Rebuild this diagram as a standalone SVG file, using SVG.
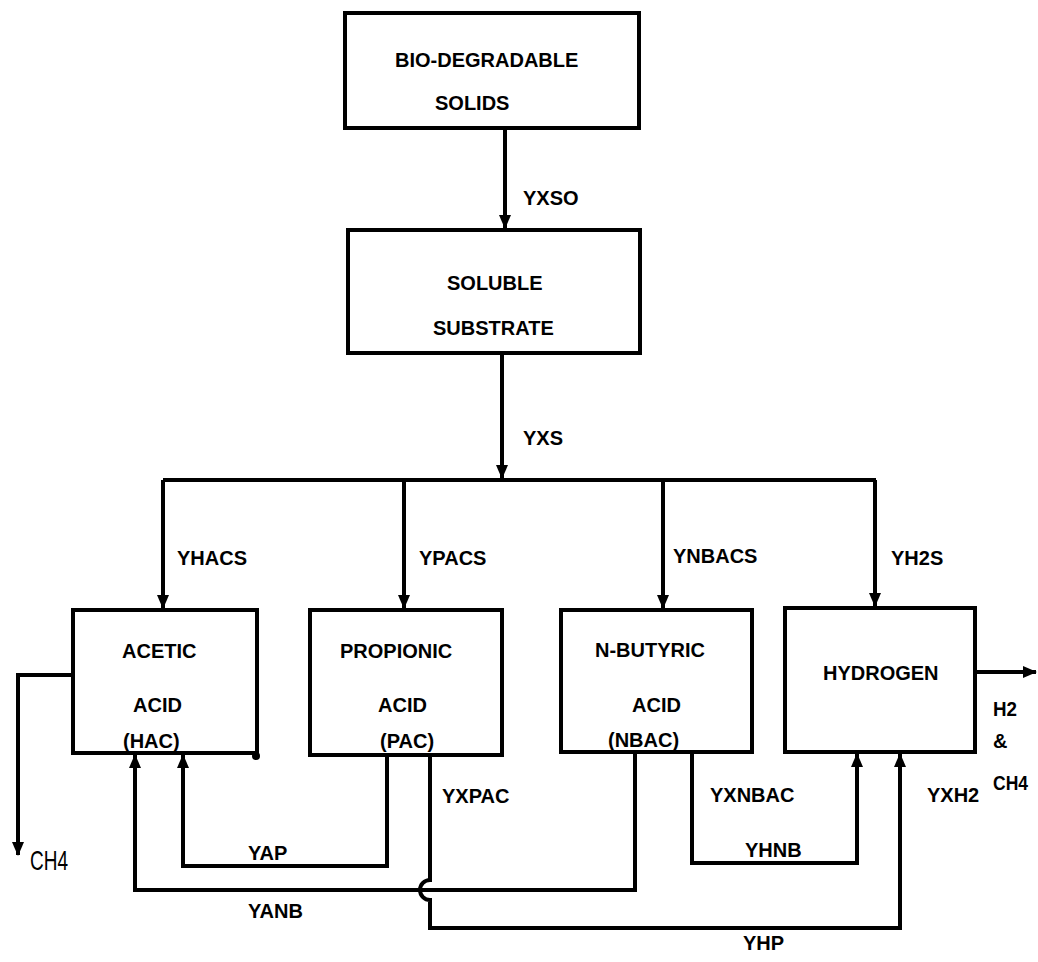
<svg xmlns="http://www.w3.org/2000/svg" width="1038" height="962" viewBox="0 0 1038 962">
<style>
.box{fill:#fff;stroke:#000;stroke-width:4}
.ln{fill:none;stroke:#000;stroke-width:4;stroke-linejoin:miter}
.t{font-family:"Liberation Sans",Arial,sans-serif;font-weight:bold;font-size:20px;fill:#000}
.h{font-family:"Liberation Sans",Arial,sans-serif;fill:#000}
</style>
<defs>
<marker id="ah" markerUnits="userSpaceOnUse" markerWidth="14" markerHeight="16" viewBox="0 0 14 16" refX="13" refY="8" orient="auto">
<path d="M0,2 L14,8 L0,14 Z" fill="#000"/>
</marker>
</defs>
<rect width="1038" height="962" fill="#fff"/>
<g id="connectors">
<path class="ln" d="M505 128 V228" marker-end="url(#ah)"/>
<path class="ln" d="M502 353 V478" marker-end="url(#ah)"/>
<path class="ln" d="M163 480 H876"/>
<path class="ln" d="M163 480 V608" marker-end="url(#ah)"/>
<path class="ln" d="M404 480 V608" marker-end="url(#ah)"/>
<path class="ln" d="M663 480 V608" marker-end="url(#ah)"/>
<path class="ln" d="M875 480 V606" marker-end="url(#ah)"/>
<path class="ln" d="M73 675 H18 V855" marker-end="url(#ah)"/>
<path class="ln" d="M387 755 V866 H183 V755" marker-end="url(#ah)"/>
<path class="ln" d="M635 752 V890 H135 V755" marker-end="url(#ah)"/>
<path class="ln" d="M430 755 V880 A10 10 0 0 0 430 900 V928 H900 V754" marker-end="url(#ah)"/>
<path class="ln" d="M692 752 V863 H857 V754" marker-end="url(#ah)"/>
<path class="ln" d="M975 672 H1036" marker-end="url(#ah)"/>
<text class="t" x="523" y="205">YXSO</text>
<text class="t" x="523" y="445">YXS</text>
<text class="t" x="177" y="565">YHACS</text>
<text class="t" x="419" y="565">YPACS</text>
<text class="t" x="673" y="563">YNBACS</text>
<text class="t" x="891" y="565">YH2S</text>
<text class="t" x="442" y="803">YXPAC</text>
<text class="t" x="248" y="860">YAP</text>
<text class="t" x="248" y="918">YANB</text>
<text class="t" x="710" y="802">YXNBAC</text>
<text class="t" x="745" y="857">YHNB</text>
<text class="t" x="927" y="802">YXH2</text>
<text class="t" x="743" y="950">YHP</text>
<text class="t" x="993" y="716" font-size="21" textLength="24" lengthAdjust="spacingAndGlyphs">H2</text>
<text class="t" x="993" y="748">&amp;</text>
<text class="t" x="993" y="790" font-size="18" textLength="35" lengthAdjust="spacingAndGlyphs">CH4</text>
<text class="h" x="30" y="870" font-size="28" textLength="38" lengthAdjust="spacingAndGlyphs">CH4</text>
</g>
<g id="bio-degradable-solids">
<rect class="box" x="345" y="13" width="294" height="115"/>
<text class="t" x="395" y="67">BIO-DEGRADABLE</text>
<text class="t" x="435" y="110">SOLIDS</text>
</g>
<g id="soluble-substrate">
<rect class="box" x="348" y="230" width="292" height="123"/>
<text class="t" x="447" y="290">SOLUBLE</text>
<text class="t" x="433" y="335">SUBSTRATE</text>
</g>
<g id="acetic-acid">
<rect class="box" x="73" y="610" width="184" height="143"/>
<circle cx="256" cy="756" r="4" fill="#000"/>
<text class="t" x="122" y="658">ACETIC</text>
<text class="t" x="133" y="712">ACID</text>
<text class="t" x="123" y="748">(HAC)</text>
</g>
<g id="propionic-acid">
<rect class="box" x="310" y="610" width="192" height="145"/>
<text class="t" x="340" y="658">PROPIONIC</text>
<text class="t" x="378" y="712">ACID</text>
<text class="t" x="380" y="748">(PAC)</text>
</g>
<g id="n-butyric-acid">
<rect class="box" x="561" y="610" width="191" height="142"/>
<text class="t" x="595" y="657">N-BUTYRIC</text>
<text class="t" x="632" y="712">ACID</text>
<text class="t" x="608" y="747">(NBAC)</text>
</g>
<g id="hydrogen">
<rect class="box" x="785" y="608" width="190" height="144"/>
<text class="t" x="823" y="680">HYDROGEN</text>
</g>
</svg>
